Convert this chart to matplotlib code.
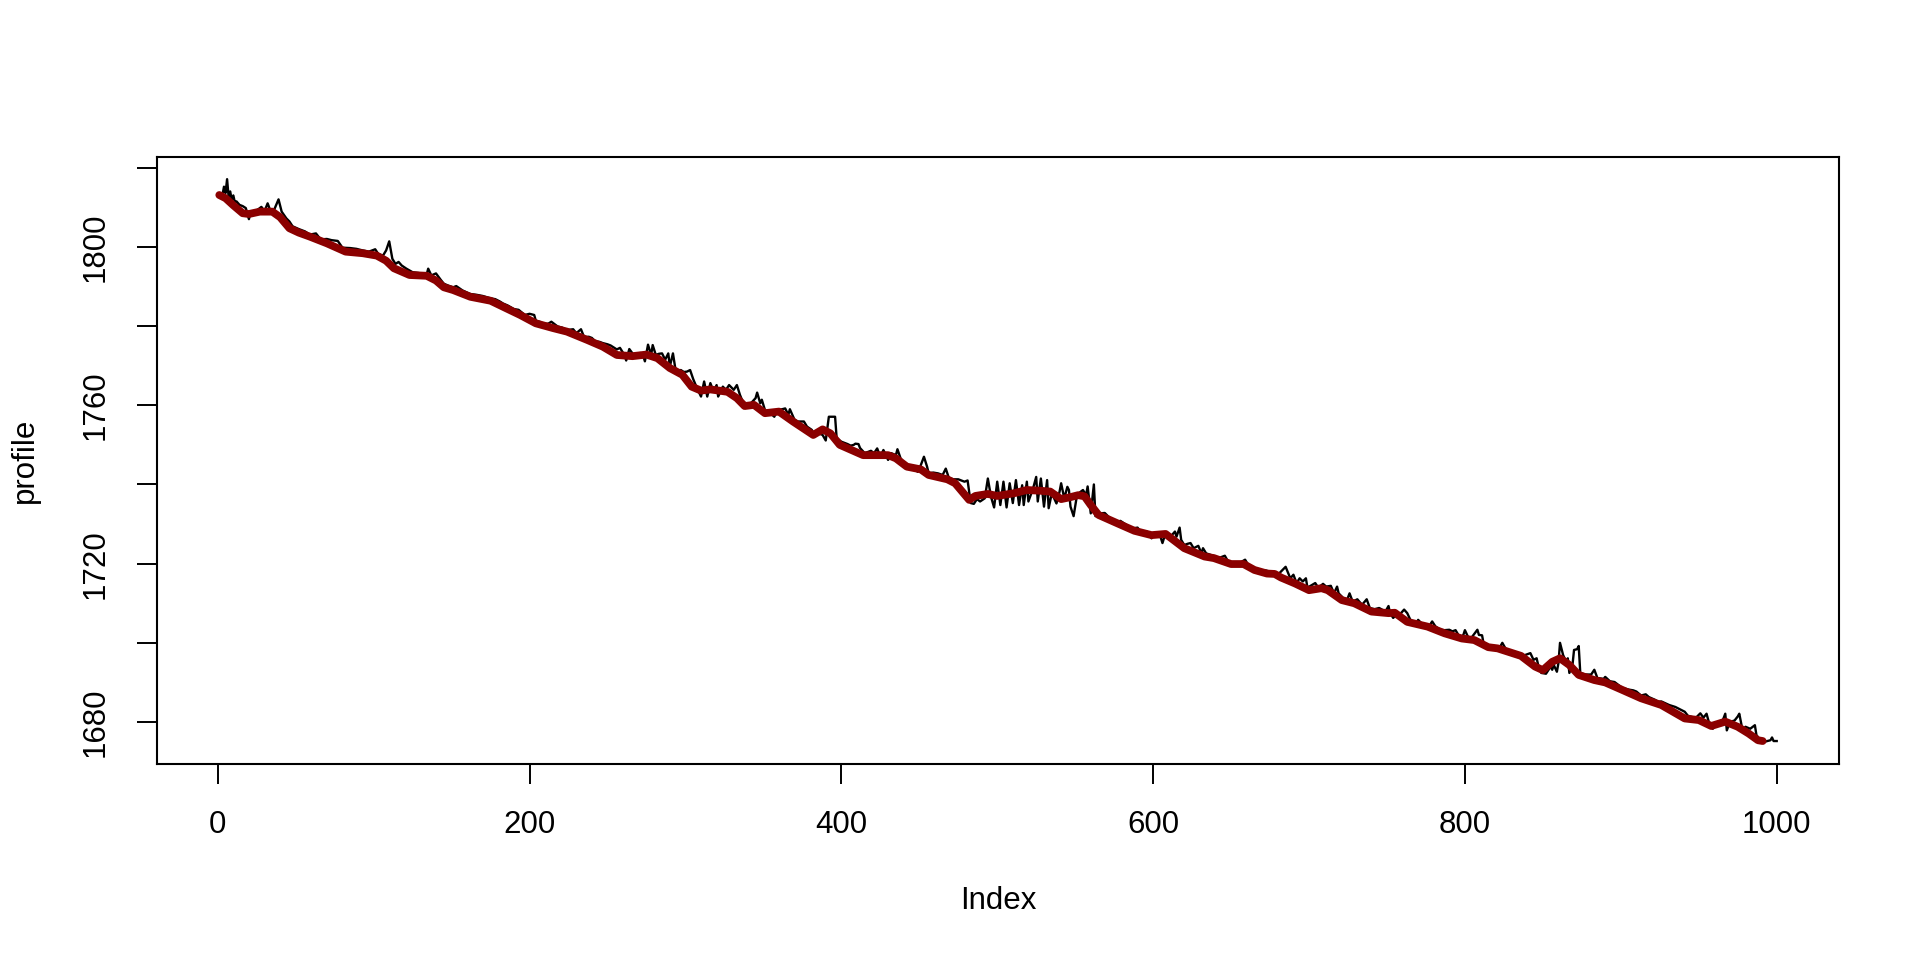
import matplotlib
matplotlib.use('Agg')
import matplotlib.pyplot as plt

# --- Data ---
# raw profile (black line): index positions and values
black_idx = [1, 3, 4, 5, 6, 7, 8, 9, 10, 11, 12, 14, 16, 18, 20, 21,
             24, 28, 30, 32, 34, 36, 39, 41, 44, 46, 48, 52, 56, 59, 63, 66,
             70, 73, 77, 80, 85, 89, 93, 97, 101, 103, 106, 108, 110, 112, 114, 116,
             118, 121, 125, 129, 132, 134, 135, 137, 140, 143, 145, 148, 151, 153, 157, 162,
             166, 170, 175, 178, 181, 183, 186, 190, 193, 197, 200, 203, 204, 207, 209, 212,
             214, 218, 221, 224, 228, 230, 233, 235, 238, 240, 242, 245, 247, 250, 252, 256,
             258, 261, 262, 264, 267, 269, 271, 273, 274, 276, 278, 279, 281, 283, 285, 287,
             289, 290, 292, 294, 297, 299, 301, 303, 305, 307, 310, 312, 314, 316, 318, 320,
             321, 324, 326, 328, 331, 333, 335, 338, 342, 345, 346, 348, 349, 351, 354, 357,
             359, 362, 364, 366, 367, 370, 372, 376, 378, 381, 383, 385, 388, 390, 392, 396,
             397, 400, 402, 404, 406, 408, 409, 411, 412, 415, 419, 421, 423, 425, 427, 430,
             432, 435, 436, 438, 440, 442, 446, 449, 451, 453, 455, 456, 459, 462, 465, 467,
             469, 472, 475, 479, 481, 483, 485, 487, 489, 492, 494, 496, 498, 500, 502, 504,
             506, 508, 510, 512, 514, 516, 517, 519, 520, 523, 525, 526, 528, 530, 532, 533,
             535, 538, 540, 541, 543, 545, 546, 547, 549, 551, 553, 555, 557, 558, 560, 562,
             563, 566, 569, 572, 574, 577, 579, 582, 584, 587, 590, 592, 594, 596, 599, 601,
             604, 606, 608, 610, 612, 614, 615, 617, 618, 620, 622, 624, 626, 629, 631, 632,
             634, 637, 640, 642, 646, 648, 652, 656, 659, 661, 663, 667, 669, 672, 675, 678,
             681, 683, 685, 688, 690, 692, 694, 696, 698, 699, 701, 704, 706, 709, 711, 714,
             716, 718, 719, 721, 724, 726, 728, 731, 734, 737, 739, 742, 745, 749, 751, 752,
             754, 756, 759, 761, 763, 766, 768, 770, 772, 774, 777, 779, 781, 784, 787, 790,
             792, 794, 797, 799, 800, 802, 804, 808, 809, 811, 812, 815, 817, 822, 824, 826,
             830, 834, 837, 842, 844, 846, 847, 849, 852, 855, 856, 857, 859, 860, 861, 863,
             865, 866, 867, 869, 870, 872, 873, 874, 877, 881, 883, 885, 889, 890, 893, 896,
             901, 905, 908, 910, 913, 916, 918, 922, 924, 926, 931, 935, 937, 939, 941, 943,
             948, 951, 953, 955, 957, 959, 962, 965, 967, 968, 970, 973, 975, 976, 978, 980,
             983, 986, 987, 989, 992, 996, 997, 998, 1000]
black_val = [1813.3, 1813.0, 1815.2, 1813.6, 1817.1, 1812.5, 1814.0, 1811.8, 1813.0, 1811.2, 1811.5, 1810.6, 1810.3, 1809.8, 1807.0, 1808.6,
             1808.9, 1810.1, 1809.0, 1811.0, 1808.9, 1809.2, 1812.0, 1808.9, 1807.2, 1806.4, 1805.2, 1804.5, 1803.9, 1803.1, 1803.4, 1801.9,
             1802.0, 1801.7, 1801.5, 1799.8, 1799.7, 1799.5, 1799.1, 1798.8, 1799.4, 1798.2, 1797.8, 1799.1, 1801.4, 1797.0, 1795.7, 1796.2,
             1795.3, 1794.5, 1793.6, 1793.4, 1793.1, 1793.0, 1794.5, 1792.8, 1793.3, 1791.7, 1790.7, 1790.2, 1789.8, 1790.1, 1789.0, 1788.1,
             1787.9, 1787.6, 1787.0, 1786.8, 1786.2, 1785.7, 1785.2, 1784.3, 1784.1, 1782.8, 1783.1, 1782.8, 1781.4, 1781.0, 1780.5, 1780.6,
             1781.1, 1779.9, 1779.6, 1779.0, 1779.2, 1778.2, 1779.2, 1777.2, 1777.3, 1777.0, 1776.2, 1776.0, 1775.7, 1775.4, 1775.1, 1774.1,
             1774.5, 1772.6, 1771.3, 1774.2, 1772.6, 1772.9, 1773.2, 1772.4, 1771.1, 1775.3, 1772.7, 1775.2, 1772.7, 1773.0, 1773.1, 1771.5,
             1773.1, 1769.8, 1773.1, 1768.1, 1768.9, 1768.4, 1768.5, 1768.9, 1766.6, 1764.7, 1762.2, 1766.0, 1762.2, 1765.6, 1763.5, 1765.1,
             1762.2, 1764.7, 1763.9, 1765.1, 1763.9, 1765.1, 1762.6, 1759.7, 1760.5, 1761.8, 1763.2, 1760.5, 1761.4, 1758.8, 1758.2, 1757.1,
             1758.8, 1759.0, 1759.2, 1757.6, 1759.0, 1756.3, 1755.9, 1755.9, 1754.6, 1753.8, 1752.5, 1753.0, 1752.5, 1751.1, 1757.1, 1757.1,
             1751.7, 1750.8, 1750.5, 1750.2, 1749.8, 1750.0, 1750.3, 1750.2, 1749.2, 1747.9, 1748.5, 1747.9, 1749.1, 1747.0, 1748.7, 1746.2,
             1747.9, 1747.4, 1748.9, 1746.6, 1745.5, 1744.5, 1744.3, 1743.2, 1744.9, 1747.0, 1744.5, 1742.8, 1743.0, 1742.8, 1742.4, 1744.0,
             1741.6, 1741.3, 1741.3, 1740.7, 1741.0, 1735.3, 1735.1, 1736.3, 1735.7, 1736.5, 1741.5, 1736.9, 1734.2, 1740.7, 1734.8, 1740.7,
             1734.2, 1740.3, 1735.3, 1741.1, 1734.8, 1739.8, 1734.8, 1740.7, 1735.7, 1739.0, 1741.9, 1735.7, 1741.5, 1734.4, 1741.1, 1734.0,
             1737.8, 1735.2, 1738.2, 1740.3, 1736.5, 1739.4, 1738.6, 1734.4, 1732.0, 1736.9, 1738.0, 1738.6, 1737.3, 1739.5, 1732.7, 1740.0,
             1732.0, 1732.7, 1732.8, 1731.6, 1731.0, 1730.5, 1730.8, 1730.0, 1729.5, 1728.9, 1729.1, 1728.1, 1727.8, 1728.1, 1726.4, 1727.7,
             1727.7, 1725.2, 1727.8, 1727.0, 1727.2, 1728.1, 1726.8, 1729.1, 1726.0, 1724.7, 1725.0, 1725.2, 1723.9, 1724.5, 1722.6, 1723.9,
             1722.6, 1722.2, 1721.8, 1721.4, 1722.0, 1720.6, 1720.0, 1720.3, 1721.0, 1719.7, 1718.9, 1718.5, 1718.0, 1718.3, 1718.0, 1717.6,
             1717.6, 1718.4, 1719.2, 1716.3, 1717.2, 1715.1, 1716.3, 1715.5, 1716.3, 1713.9, 1714.4, 1715.1, 1713.9, 1714.9, 1714.2, 1714.4,
             1712.5, 1714.2, 1712.5, 1711.7, 1710.4, 1712.5, 1710.4, 1711.0, 1709.6, 1711.0, 1708.8, 1708.5, 1708.8, 1707.9, 1709.3, 1707.5,
             1706.3, 1707.1, 1707.5, 1708.4, 1707.5, 1705.0, 1704.3, 1705.8, 1705.0, 1704.6, 1704.2, 1705.4, 1704.2, 1703.3, 1703.2, 1703.3,
             1702.9, 1703.2, 1701.2, 1702.0, 1703.2, 1701.5, 1701.2, 1703.3, 1702.0, 1701.9, 1699.8, 1699.0, 1699.2, 1698.6, 1700.0, 1698.6,
             1697.4, 1697.4, 1696.7, 1697.4, 1695.7, 1696.1, 1694.4, 1692.4, 1692.2, 1694.0, 1693.2, 1694.4, 1692.7, 1694.9, 1700.0, 1696.9,
             1695.2, 1696.1, 1692.4, 1694.4, 1698.2, 1698.4, 1699.2, 1692.4, 1692.0, 1692.0, 1693.2, 1691.1, 1690.9, 1691.4, 1690.3, 1690.1,
             1688.6, 1688.2, 1688.0, 1687.7, 1686.7, 1687.0, 1686.3, 1685.6, 1685.1, 1685.2, 1684.3, 1683.8, 1683.4, 1683.0, 1682.6, 1681.6,
             1681.0, 1682.2, 1681.1, 1682.1, 1679.2, 1678.3, 1679.7, 1680.0, 1682.1, 1677.9, 1680.0, 1680.4, 1681.4, 1682.1, 1678.1, 1678.8,
             1678.3, 1679.2, 1676.7, 1675.6, 1675.0, 1675.4, 1676.1, 1675.2, 1675.2]

# smoothed profile (dark red line)
red_idx = [1, 5, 10, 16, 20, 27, 35, 40, 46, 52, 59, 70, 82, 93, 102, 108,
           113, 123, 134, 140, 145, 151, 162, 175, 185, 194, 204, 215, 224, 237, 247, 256,
           266, 275, 282, 290, 298, 304, 310, 316, 327, 333, 338, 344, 351, 360, 369, 382,
           388, 393, 399, 414, 430, 435, 442, 451, 456, 468, 473, 482, 486, 494, 500, 511,
           519, 528, 534, 541, 547, 552, 556, 560, 565, 577, 588, 599, 608, 620, 633, 639,
           650, 658, 665, 673, 678, 682, 691, 700, 708, 712, 721, 729, 740, 751, 755, 763,
           776, 787, 798, 806, 815, 821, 836, 845, 850, 856, 861, 867, 873, 883, 890, 901,
           913, 926, 941, 950, 958, 967, 975, 982, 988, 991]
red_val = [1813.1, 1812.3, 1810.5, 1808.5, 1808.3, 1808.9, 1808.9, 1807.5, 1804.7, 1803.6, 1802.6, 1800.9, 1798.8, 1798.4, 1797.8, 1796.5,
           1794.6, 1792.9, 1792.7, 1791.5, 1789.8, 1789.1, 1787.4, 1786.4, 1784.5, 1782.8, 1780.7, 1779.5, 1778.6, 1776.5, 1774.8, 1772.7,
           1772.4, 1772.8, 1771.9, 1769.4, 1767.7, 1764.7, 1763.7, 1764.0, 1763.4, 1761.8, 1759.8, 1760.1, 1758.0, 1758.4, 1755.9, 1752.5,
           1753.9, 1752.9, 1750.0, 1747.4, 1747.4, 1746.6, 1744.5, 1743.8, 1742.4, 1741.3, 1740.3, 1736.1, 1737.1, 1737.6, 1737.1, 1737.8,
           1738.6, 1738.4, 1738.2, 1736.3, 1736.8, 1737.3, 1737.0, 1734.8, 1732.3, 1730.2, 1728.3, 1727.2, 1727.5, 1723.9, 1721.8, 1721.4,
           1719.9, 1719.9, 1718.4, 1717.5, 1717.4, 1716.5, 1715.0, 1713.3, 1713.8, 1713.3, 1710.8, 1710.0, 1707.9, 1707.5, 1707.6, 1705.3,
           1704.1, 1702.4, 1701.1, 1700.7, 1698.9, 1698.6, 1696.7, 1694.0, 1693.1, 1695.2, 1696.1, 1694.4, 1691.9, 1690.6, 1690.0, 1688.1,
           1686.0, 1684.3, 1680.9, 1680.5, 1679.0, 1680.1, 1678.8, 1677.1, 1675.4, 1675.2]

x_ticks = [0, 200, 400, 600, 800, 1000]
y_ticks = [1680, 1700, 1720, 1740, 1760, 1780, 1800, 1820]
y_labels = ['1680', '', '1720', '', '1760', '', '1800', '']

# --- Plotting ---
plt.rcParams['font.family'] = ['Liberation Sans', 'DejaVu Sans']

fig = plt.figure(figsize=(19.2, 9.6), dpi=100)
ax = fig.add_axes([157 / 1920, 1 - 764 / 960, (1839 - 157) / 1920, (764 - 157) / 960])

ax.plot(black_idx, black_val, color='black', lw=1.7)
ax.plot(red_idx, red_val, color='#8B0000', lw=5.6, solid_capstyle='round', solid_joinstyle='round')

ax.set_xlim(-38.96, 1039.96)
ax.set_ylim(1669.4, 1822.7)

ax.set_xticks(x_ticks)
ax.set_xticklabels([str(t) for t in x_ticks])
ax.set_yticks(y_ticks)
ax.set_yticklabels(y_labels, rotation=90, va='center')

ax.tick_params(axis='both', direction='out', length=14.4, width=1.4, labelsize=22.5, pad=19)
for sp in ax.spines.values():
    sp.set_linewidth(1.5)

fig.text(0.5 * (157 + 1839) / 1920, 1 - 901 / 960, 'Index', ha='center', va='center', fontsize=22.5)
fig.text(25 / 1920, 1 - 0.5 * (157 + 764) / 960, 'profile', ha='center', va='center', rotation=90, fontsize=22.5)

fig.savefig('out.png', dpi=100)
